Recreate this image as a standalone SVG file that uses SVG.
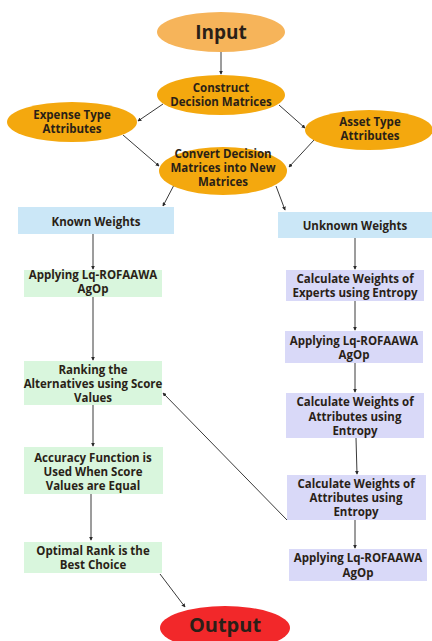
<svg xmlns="http://www.w3.org/2000/svg" width="432" height="641" viewBox="0 0 432 641">
<style>
.t{font-family:"Open Sans","DejaVu Sans",sans-serif;font-weight:bold;font-size:11.5px;fill:#2a1f17;text-anchor:middle}
.big{font-size:19px}
.c{stroke:#3a3a3a;stroke-width:1;fill:none;marker-end:url(#ah)}
.lo{fill:#F6B45A}
.or{fill:#F4A80E}
.bl{fill:#CBE7F7}
.gr{fill:#D9F6DD}
.pu{fill:#D9D9F8}
</style>
<defs>
<marker id="ah" viewBox="0 0 6 6" refX="5" refY="3" markerWidth="4" markerHeight="4" orient="auto" markerUnits="userSpaceOnUse">
<path d="M0,0 L6,3 L0,6 z" fill="#2a2a2a"/>
</marker>
</defs>
<rect width="432" height="641" fill="#ffffff"/>
<g id="connectors">
<line class="c" x1="221" y1="52" x2="221" y2="74"/>
<line class="c" x1="163" y1="104" x2="138" y2="121"/>
<line class="c" x1="279" y1="105" x2="305" y2="128"/>
<line class="c" x1="123" y1="135" x2="159" y2="166"/>
<line class="c" x1="314" y1="140" x2="289" y2="167"/>
<line class="c" x1="174" y1="185" x2="163" y2="206"/>
<line class="c" x1="276" y1="186" x2="285" y2="210"/>
<line class="c" x1="93" y1="234" x2="93" y2="269"/>
<line class="c" x1="93" y1="297" x2="93" y2="360"/>
<line class="c" x1="93" y1="405" x2="93" y2="446"/>
<line class="c" x1="91" y1="494" x2="91" y2="540"/>
<line class="c" x1="160" y1="574" x2="185" y2="607"/>
<line class="c" x1="355" y1="238" x2="355" y2="269"/>
<line class="c" x1="355" y1="301" x2="355" y2="330"/>
<line class="c" x1="355" y1="363" x2="355" y2="392"/>
<line class="c" x1="356" y1="438" x2="357" y2="474"/>
<line class="c" x1="355" y1="520" x2="355" y2="548"/>
<line class="c" x1="287" y1="520" x2="163" y2="393"/>
</g>
<g id="input"><ellipse class="lo" cx="221" cy="32" rx="64" ry="20"/><text class="t big" x="221" y="39">Input</text></g>
<g id="construct"><ellipse class="or" cx="221" cy="95" rx="64" ry="20"/><text class="t" x="221" y="92">Construct</text><text class="t" x="221" y="106">Decision Matrices</text></g>
<g id="expense"><ellipse class="or" cx="72" cy="122" rx="65" ry="20"/><text class="t" x="72" y="119">Expense Type</text><text class="t" x="72" y="133">Attributes</text></g>
<g id="asset"><ellipse class="or" cx="369" cy="130" rx="64" ry="20"/><text class="t" x="370" y="126">Asset Type</text><text class="t" x="370" y="140">Attributes</text></g>
<g id="convert"><ellipse class="or" cx="223" cy="171" rx="64" ry="24"/><text class="t" x="223" y="158">Convert Decision</text><text class="t" x="223" y="172">Matrices into New</text><text class="t" x="223" y="186">Matrices</text></g>
<g id="known"><rect class="bl" x="18" y="207" width="156" height="27"/><text class="t" x="96" y="226">Known Weights</text></g>
<g id="unknown"><rect class="bl" x="278" y="212" width="154" height="26"/><text class="t" x="355" y="230">Unknown Weights</text></g>
<g id="applyL"><rect class="gr" x="24" y="270" width="138" height="27"/><text class="t" x="93" y="279">Applying Lq-ROFAAWA</text><text class="t" x="93" y="293">AgOp</text></g>
<g id="ranking"><rect class="gr" x="24" y="361" width="138" height="44"/><text class="t" x="93" y="374">Ranking the</text><text class="t" x="93" y="388">Alternatives using Score</text><text class="t" x="93" y="402">Values</text></g>
<g id="accuracy"><rect class="gr" x="24" y="447" width="139" height="47"/><text class="t" x="93" y="462">Accuracy Function is</text><text class="t" x="93" y="476">Used When Score</text><text class="t" x="93" y="490">Values are Equal</text></g>
<g id="optimal"><rect class="gr" x="24" y="542" width="138" height="31"/><text class="t" x="93" y="555">Optimal Rank is the</text><text class="t" x="93" y="569">Best Choice</text></g>
<g id="calcExperts"><rect class="pu" x="286" y="270" width="138" height="31"/><text class="t" x="355" y="283">Calculate Weights of</text><text class="t" x="355" y="297">Experts using Entropy</text></g>
<g id="applyR1"><rect class="pu" x="285" y="331" width="138" height="32"/><text class="t" x="354" y="345">Applying Lq-ROFAAWA</text><text class="t" x="354" y="359">AgOp</text></g>
<g id="calcAttr1"><rect class="pu" x="286" y="393" width="138" height="45"/><text class="t" x="355" y="406">Calculate Weights of</text><text class="t" x="355" y="421">Attributes using</text><text class="t" x="355" y="435">Entropy</text></g>
<g id="calcAttr2"><rect class="pu" x="287" y="475" width="139" height="45"/><text class="t" x="356" y="488">Calculate Weights of</text><text class="t" x="356" y="502">Attributes using</text><text class="t" x="356" y="516">Entropy</text></g>
<g id="applyR2"><rect class="pu" x="289" y="549" width="138" height="32"/><text class="t" x="358" y="562">Applying Lq-ROFAAWA</text><text class="t" x="358" y="577">AgOp</text></g>
<g id="output"><ellipse cx="225" cy="628" rx="65" ry="22" fill="#F2282A"/><text class="t big" x="225" y="632" style="font-size:20px">Output</text></g>
</svg>
